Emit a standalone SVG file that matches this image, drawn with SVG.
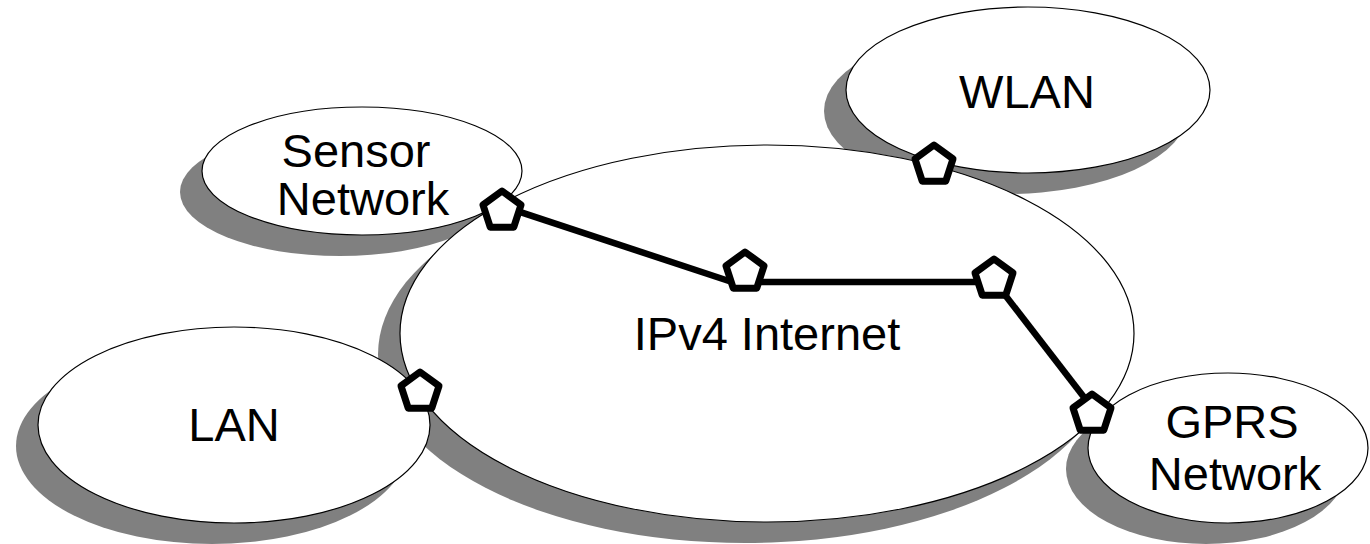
<svg xmlns="http://www.w3.org/2000/svg" xmlns:xlink="http://www.w3.org/1999/xlink" width="1370" height="544" viewBox="0 0 1370 544">
<style>
.shadow{fill:#808080;stroke:none}
.cloud{fill:#ffffff;stroke:#000000;stroke-width:1.2}
.label{font-family:"Liberation Sans",Arial,sans-serif;font-size:47px;fill:#000000;text-anchor:middle}
.link{stroke:#000000;stroke-width:6.5;stroke-linecap:butt;fill:none}
.router{fill:#ffffff;stroke:#000000;stroke-width:7;stroke-linejoin:round}
</style>
<defs>
<polygon id="pent" points="0,-20 19.02,-6.18 11.76,16.18 -11.76,16.18 -19.02,-6.18"/>
</defs>
<rect width="1370" height="544" fill="#ffffff"/>
<g id="shadows">
<ellipse class="shadow" cx="745" cy="354.5" rx="367" ry="188.5"/>
<ellipse class="shadow" cx="340" cy="192" rx="160" ry="64"/>
<ellipse class="shadow" cx="1006" cy="111" rx="182" ry="83"/>
<ellipse class="shadow" cx="212" cy="446" rx="196" ry="98"/>
<ellipse class="shadow" cx="1206" cy="469" rx="140" ry="75"/>
</g>
<g id="node-sensor">
<ellipse class="cloud" cx="362" cy="171" rx="160" ry="64"/>
<text class="label" x="356" y="167">Sensor</text>
<text class="label" x="363" y="215">Network</text>
</g>
<g id="node-wlan">
<ellipse class="cloud" cx="1028" cy="90" rx="182" ry="83"/>
<text class="label" x="1027" y="108">WLAN</text>
</g>
<g id="node-lan">
<ellipse class="cloud" cx="234" cy="425" rx="196" ry="98"/>
<text class="label" x="234" y="441">LAN</text>
</g>
<g id="node-gprs">
<ellipse class="cloud" cx="1228" cy="448" rx="140" ry="75"/>
<text class="label" x="1232" y="438">GPRS</text>
<text class="label" x="1235" y="490">Network</text>
</g>
<g id="node-internet">
<ellipse class="cloud" cx="767" cy="333.5" rx="367" ry="188.5"/>
<text class="label" x="767" y="350">IPv4 Internet</text>
</g>
<g id="connectors">
<line class="link" x1="505" y1="207" x2="735" y2="283"/>
<line class="link" x1="750" y1="282" x2="990" y2="282"/>
<line class="link" x1="995" y1="282" x2="1090" y2="405"/>
</g>
<g id="router-sensor"><use xlink:href="#pent" class="router" x="502" y="211"/></g>
<g id="router-core1"><use xlink:href="#pent" class="router" x="745" y="272"/></g>
<g id="router-core2"><use xlink:href="#pent" class="router" x="994" y="279"/></g>
<g id="router-gprs"><use xlink:href="#pent" class="router" x="1092" y="414"/></g>
<g id="router-wlan"><use xlink:href="#pent" class="router" x="934" y="165"/></g>
<g id="router-lan"><use xlink:href="#pent" class="router" x="420" y="392"/></g>
</svg>
